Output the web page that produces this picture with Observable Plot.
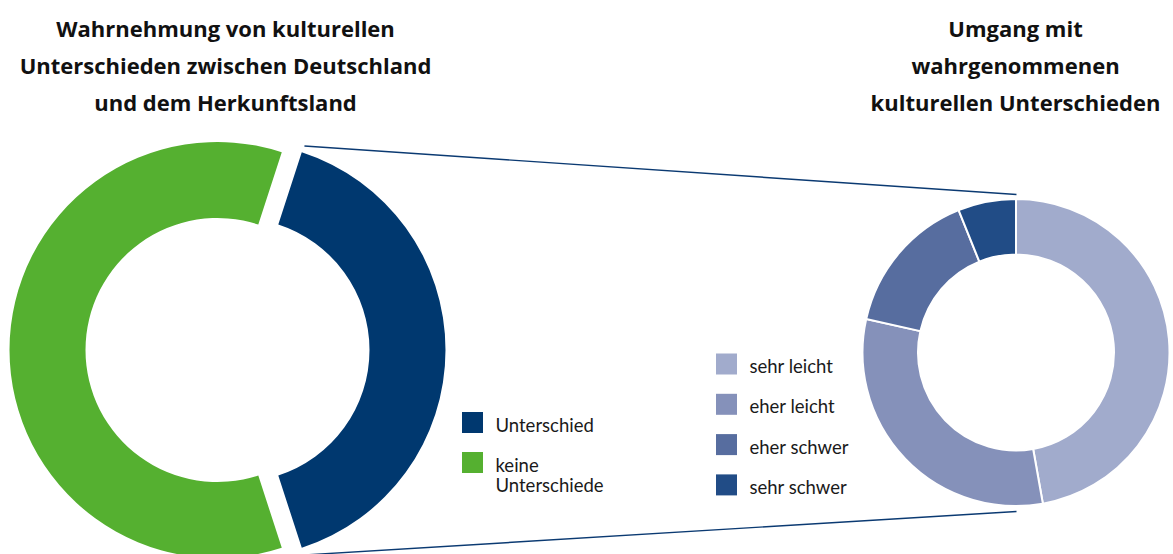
<!DOCTYPE html>
<html>
<head>
<meta charset="utf-8">
<script src="https://cdn.jsdelivr.net/npm/d3@7"></script>
<script src="https://cdn.jsdelivr.net/npm/@observablehq/plot@0.6"></script>
<style>
  html, body { margin: 0; padding: 0; background: #fff; }
  #chart svg { display: block; }
</style>
</head>
<body>
<div id="chart"></div>
<script>
// ---- data ----
const leftCategories = ["Unterschied", "keine Unterschiede"];
const leftValues = [40, 60];
const leftLegendLabels = ["Unterschied", "keine\nUnterschiede"];
const leftColors = ["#00386f", "#55b030"];

const rightCategories = ["sehr leicht", "eher leicht", "eher schwer", "sehr schwer"];
const rightValues = [47.2, 31.3, 15.4, 6.1];
const rightColors = ["#a1abcc", "#8591ba", "#576d9f", "#214c86"];

const leftTitle = ["Wahrnehmung von kulturellen", "Unterschieden zwischen Deutschland", "und dem Herkunftsland"];
const rightTitle = ["Umgang mit", "wahrgenommenen", "kulturellen Unterschieden"];

// ---- layout ----
const W = 1173, H = 554;
const FONT = "Lato, 'Open Sans', sans-serif";
const TITLE_FONT = "'Open Sans', Lato, sans-serif";
const L = {cx: 217.5, cy: 350, R: 208, r: 132, explode: 20};
const Rt = {cx: 1016, cy: 352.5, R: 153.5, r: 98};

// pie layouts
const leftTotal = d3.sum(leftValues);
const leftStart = Math.PI / 2 - Math.PI * leftValues[0] / leftTotal;
const leftArcs = d3.pie().sort(null).startAngle(leftStart).endAngle(leftStart + 2 * Math.PI)(leftValues)
  .map((a, i) => ({...a, category: leftCategories[i], exploded: i === 0}));
const rightArcs = d3.pie().sort(null)(rightValues)
  .map((a, i) => ({...a, category: rightCategories[i]}));

const colorDomain = [...leftCategories, ...rightCategories];
const colorRange = [...leftColors, ...rightColors];

// donut mark rendered through Plot's scales
function donut(arcs, geo, {stroke = "none", strokeWidth = 0} = {}) {
  return (index, scales) => {
    const g = d3.create("svg:g");
    const arcGen = d3.arc().innerRadius(geo.r).outerRadius(geo.R);
    for (const a of arcs) {
      const mid = (a.startAngle + a.endAngle) / 2;
      const off = a.exploded ? geo.explode : 0;
      const x = scales.x(geo.cx + off * Math.sin(mid));
      const y = scales.y(geo.cy - off * Math.cos(mid));
      g.append("path")
        .attr("transform", `translate(${x},${y})`)
        .attr("d", arcGen(a))
        .attr("fill", scales.color(a.category))
        .attr("stroke", stroke)
        .attr("stroke-width", strokeWidth)
        .attr("stroke-linejoin", "miter");
    }
    return g.node();
  };
}

// connector lines from exploded slice to the right donut
const ex = leftArcs[0];
const exMid = (ex.startAngle + ex.endAngle) / 2;
const exCx = L.cx + L.explode * Math.sin(exMid), exCy = L.cy - L.explode * Math.cos(exMid);
const connectors = [ex.startAngle, ex.endAngle].map((ang, i) => ({
  x1: exCx + (L.R + 7) * Math.sin(ang),
  y1: exCy - (L.R + 7) * Math.cos(ang),
  x2: Rt.cx,
  y2: i === 0 ? Rt.cy - (Rt.R + 5) : Rt.cy + (Rt.R + 5)
}));

// titles
const titleRows = [
  ...leftTitle.map((t, i) => ({text: t, x: 225, y: 36 + i * 37})),
  ...rightTitle.map((t, i) => ({text: t, x: 1015, y: 36 + i * 37}))
];

// legends
const sq = 21;
const leftLegend = leftCategories.map((c, i) => ({
  category: c, label: leftLegendLabels[i], x: 462, y: 412 + i * 40
}));
const rightLegend = rightCategories.map((c, i) => ({
  category: c, label: c, x: 716, y: 353.5 + i * 40.3
}));
const legend = [...leftLegend, ...rightLegend];

const chart = Plot.plot({
  width: W,
  height: H,
  margin: 0,
  style: {fontFamily: FONT, background: "#fff", overflow: "visible"},
  x: {domain: [0, W], range: [0, W], axis: null},
  y: {domain: [0, H], range: [0, H], axis: null},
  color: {domain: colorDomain, range: colorRange},
  marks: [
    Plot.link(connectors, {x1: "x1", y1: "y1", x2: "x2", y2: "y2", stroke: "#0b3a72", strokeWidth: 1.4}),
    donut(leftArcs, L),
    donut(rightArcs, Rt, {stroke: "#fff", strokeWidth: 2}),
    Plot.rect(legend, {x1: "x", x2: d => d.x + sq, y1: "y", y2: d => d.y + sq, fill: "category"}),
    Plot.text(legend, {
      x: d => d.x + sq + 12, y: d => d.y + 5, text: "label",
      textAnchor: "start", lineAnchor: "top", fontSize: 18.5, fill: "#1a1a1a", lineHeight: 1.08
    }),
    Plot.text(titleRows, {
      x: "x", y: "y", text: "text", lineAnchor: "bottom",
      fontSize: 22, fontWeight: "bold", fill: "#111", fontFamily: TITLE_FONT
    })
  ]
});

document.getElementById("chart").append(chart);
</script>
</body>
</html>
